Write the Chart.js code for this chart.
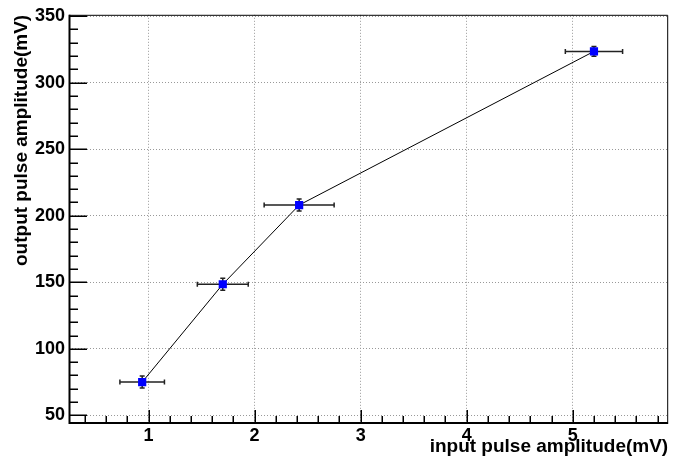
<!DOCTYPE html>
<html>
<head>
<meta charset="utf-8">
<script src="https://cdn.jsdelivr.net/npm/chart.js@4/dist/chart.umd.min.js"></script>
<style>
  html, body { margin: 0; padding: 0; background: #ffffff; }
  #wrap { width: 674px; height: 468px; position: relative; }
</style>
</head>
<body>
<div id="wrap"><canvas id="c" width="674" height="468"></canvas></div>
<script>
// ---- data ----
const inputAmp  = [0.94, 1.70, 2.42, 5.20];      // x (mV)
const inputErr  = [0.21, 0.24, 0.33, 0.27];      // x error (mV)
const outputAmp = [75, 148.5, 208, 323.5];       // y (mV)
const outputErr = [4.5, 4.5, 4.5, 3.7];          // y error (mV)
const xTitle = 'input pulse amplitude(mV)';
const yTitle = 'output pulse amplitude(mV)';
const xRange = [0.25, 5.9];
const yRange = [45, 351];
const xMajorStep = 1, xMinorStep = 0.2;
const yMajorStep = 50, yMinorStep = 10;

const FONT = "'Liberation Sans', Arial, Helvetica, sans-serif";
Chart.defaults.font.family = FONT;
Chart.defaults.font.weight = 'bold';
Chart.defaults.color = '#000';

const points = inputAmp.map((x, i) => ({ x: x, y: outputAmp[i] }));

const errorBars = {
  id: 'errorBars',
  beforeDatasetsDraw(chart) {
    const ctx = chart.ctx, xs = chart.scales.x, ys = chart.scales.y;
    ctx.save();
    ctx.strokeStyle = '#222';
    ctx.lineWidth = 1.5;
    const cap = 2.5;
    for (let i = 0; i < inputAmp.length; i++) {
      const px = xs.getPixelForValue(inputAmp[i]);
      const py = ys.getPixelForValue(outputAmp[i]);
      const x0 = xs.getPixelForValue(inputAmp[i] - inputErr[i]);
      const x1 = xs.getPixelForValue(inputAmp[i] + inputErr[i]);
      const y0 = ys.getPixelForValue(outputAmp[i] - outputErr[i]);
      const y1 = ys.getPixelForValue(outputAmp[i] + outputErr[i]);
      ctx.beginPath();
      ctx.moveTo(x0, py); ctx.lineTo(x1, py);
      ctx.moveTo(x0, py - cap); ctx.lineTo(x0, py + cap);
      ctx.moveTo(x1, py - cap); ctx.lineTo(x1, py + cap);
      ctx.moveTo(px, y0); ctx.lineTo(px, y1);
      ctx.moveTo(px - cap, y0); ctx.lineTo(px + cap, y0);
      ctx.moveTo(px - cap, y1); ctx.lineTo(px + cap, y1);
      ctx.stroke();
    }
    ctx.restore();
  }
};

const frameAndTicks = {
  id: 'frameAndTicks',
  afterDraw(chart) {
    const ctx = chart.ctx, xs = chart.scales.x, ys = chart.scales.y;
    const a = chart.chartArea;
    ctx.save();
    ctx.strokeStyle = '#000';
    ctx.lineWidth = 1;
    ctx.beginPath();
    ctx.moveTo(a.left, a.top + 0.5); ctx.lineTo(a.right - 0.5, a.top + 0.5);
    ctx.lineTo(a.right - 0.5, a.bottom);
    ctx.stroke();
    ctx.lineWidth = 1.5;
    ctx.beginPath();
    const eps = 1e-9;
    let startY = Math.ceil((yRange[0] - eps) / yMinorStep) * yMinorStep;
    for (let v = startY; v <= yRange[1] + eps; v += yMinorStep) {
      const py = Math.round(ys.getPixelForValue(v)) + 0.25;
      const major = Math.abs(v / yMajorStep - Math.round(v / yMajorStep)) < 1e-6;
      const len = major ? 18 : 9;
      ctx.moveTo(a.left, py); ctx.lineTo(a.left + len, py);
    }
    let startX = Math.ceil((xRange[0] - eps) / xMinorStep) * xMinorStep;
    for (let v = startX; v <= xRange[1] + eps; v += xMinorStep) {
      const px = Math.round(xs.getPixelForValue(v)) + 0.25;
      const major = Math.abs(v / xMajorStep - Math.round(v / xMajorStep)) < 1e-6;
      const len = major ? 12 : 6;
      ctx.moveTo(px, a.bottom); ctx.lineTo(px, a.bottom - len);
    }
    ctx.stroke();
    ctx.lineWidth = 2;
    ctx.beginPath();
    ctx.moveTo(a.left + 0.5, a.top); ctx.lineTo(a.left + 0.5, a.bottom + 1);
    ctx.lineTo(a.right, a.bottom + 1);
    ctx.stroke();
    ctx.restore();
  }
};

new Chart(document.getElementById('c'), {
  type: 'scatter',
  data: {
    datasets: [{
      data: points,
      showLine: true,
      borderColor: '#000',
      borderWidth: 1,
      tension: 0,
      pointStyle: 'rect',
      pointRadius: 5.8,
      pointHoverRadius: 5.8,
      pointBackgroundColor: '#0000ff',
      pointBorderWidth: 0,
      pointBorderColor: '#0000ff'
    }]
  },
  options: {
    responsive: false,
    animation: false,
    devicePixelRatio: 1,
    layout: { padding: { top: 12, right: 4, left: 0, bottom: 0 } },
    plugins: { legend: { display: false }, tooltip: { enabled: false } },
    scales: {
      x: {
        type: 'linear',
        min: xRange[0], max: xRange[1],
        afterFit(scale) { scale.height = 46; },
        ticks: {
          stepSize: xMajorStep, includeBounds: false, padding: 3,
          maxRotation: 0, autoSkip: false,
          color: '#000', font: { family: FONT, weight: 'bold', size: 18 }
        },
        grid: { drawTicks: false, color: '#999', lineWidth: 1, borderDash: [1, 2] },
        border: { display: false, dash: [1, 2] },
        title: {
          display: true, text: xTitle, align: 'end', color: '#000',
          font: { family: FONT, weight: 'bold', size: 19 },
          padding: { top: 0, bottom: 10 }
        }
      },
      y: {
        type: 'linear',
        min: yRange[0], max: yRange[1],
        afterFit(scale) { scale.width = 69; },
        ticks: {
          stepSize: yMajorStep, includeBounds: false, padding: 4,
          color: '#000', font: { family: FONT, weight: 'bold', size: 18 }
        },
        grid: { drawTicks: false, color: '#999', lineWidth: 1, borderDash: [1, 2] },
        border: { display: false, dash: [1, 2] },
        title: {
          display: true, text: yTitle, align: 'end', color: '#000',
          font: { family: FONT, weight: 'bold', size: 19 },
          padding: { top: 10, bottom: 0 }
        }
      }
    }
  },
  plugins: [errorBars, frameAndTicks]
});
</script>
</body>
</html>
